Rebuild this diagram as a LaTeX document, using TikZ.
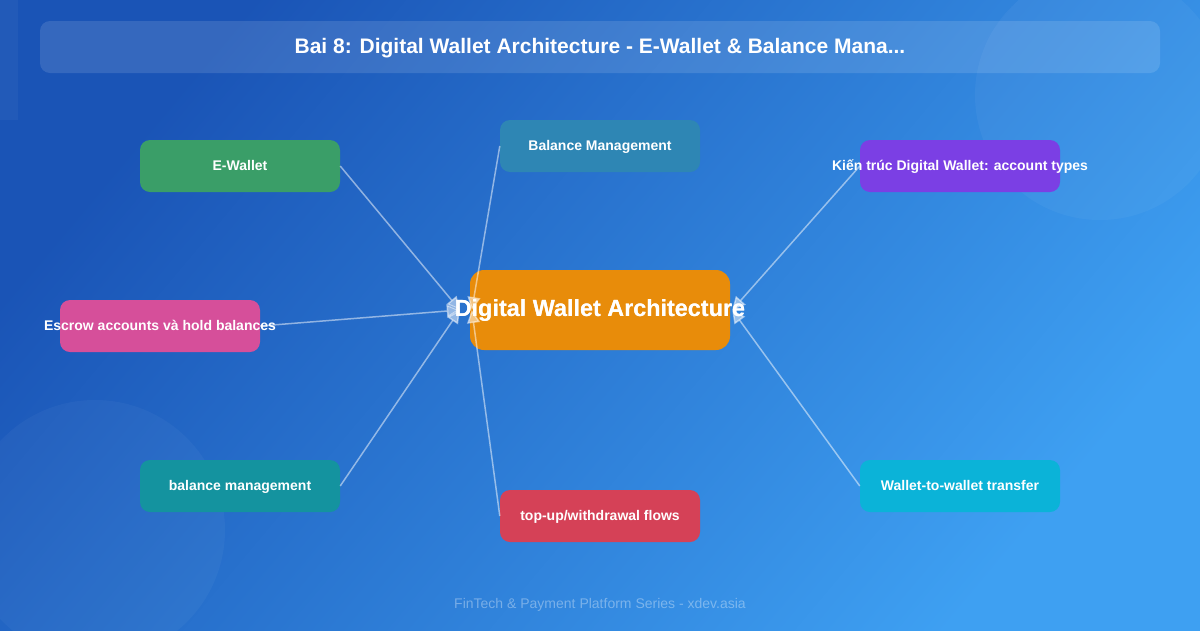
\documentclass[tikz,border=0pt]{standalone}
\usepackage{fontspec}
\setmainfont{Liberation Sans}
\usetikzlibrary{arrows.meta}
\definecolor{bgA}{RGB}{26,84,182}
\definecolor{bgB}{RGB}{62,160,242}
\definecolor{cGreen}{RGB}{58,158,104}
\definecolor{cBal}{RGB}{46,134,180}
\definecolor{cPurple}{RGB}{123,63,228}
\definecolor{cOrange}{RGB}{232,140,10}
\definecolor{cPink}{RGB}{214,79,154}
\definecolor{cTeal}{RGB}{20,147,159}
\definecolor{cRed}{RGB}{213,65,87}
\definecolor{cCyan}{RGB}{11,179,216}
\newcommand{\zw}[1]{\makebox[0pt][c]{#1}}
\tikzset{
  leaf/.style={rectangle, rounded corners=10pt, minimum width=200pt, minimum height=52pt,
    text=white, font=\bfseries\fontsize{14}{16}\selectfont, inner sep=0pt,
    text height=10pt, text depth=1pt},
  hub/.style={rectangle, rounded corners=14pt, minimum width=260pt, minimum height=80pt,
    fill=cOrange, text=white, font=\bfseries\fontsize{23.4}{26}\selectfont, inner sep=0pt},
  link/.style={draw=white, opacity=0.5, line width=1.5pt,
    -{Triangle[length=13pt,width=13pt]}},
}
\begin{document}
\begin{tikzpicture}[x=1pt,y=-1pt]
\useasboundingbox (0,0) rectangle (1200,630);
\shade[top color=bgA, bottom color=bgB, shading angle=50] (0,0) rectangle (1200,630);
% faint decorative shapes
\fill[white, opacity=0.04] (1100,95) circle (125);
\fill[white, opacity=0.035] (95,530) circle (130);
\fill[white, opacity=0.04] (0,0) rectangle (18,120);
% title bar
\node[rectangle, rounded corners=10pt, minimum width=1120pt, minimum height=52pt,
  fill=white, fill opacity=0.12, text opacity=1, text=white,
  font=\bfseries\fontsize{21}{23}\selectfont, text height=15pt, text depth=2pt] (title) at (600,47)
  {Bai 8: Digital Wallet Architecture - E-Wallet \& Balance Mana...};
% nodes
\node[hub] (c) at (600,310) {\zw{Digital Wallet Architecture}};
\node[leaf, fill=cGreen] (ew) at (240,166) {E-Wallet};
\node[leaf, fill=cBal] (bm) at (600,146) {Balance Management};
\node[leaf, fill=cPurple] (kt) at (960,166) {\zw{Kiến trúc Digital Wallet: account types}};
\node[leaf, fill=cPink] (es) at (160,326) {\zw{Escrow accounts và hold balances}};
\node[leaf, fill=cTeal] (bl) at (240,486) {balance management};
\node[leaf, fill=cRed] (tu) at (600,516) {top-up/withdrawal flows};
\node[leaf, fill=cCyan] (ww) at (960,486) {Wallet-to-wallet transfer};
% connectors
\coordinate (cl) at ([xshift=-10pt]c.west);
\coordinate (cr) at ([xshift=2pt]c.east);
\draw[link] (ew.east) -- (cl);
\draw[link] (bm.west) -- ([xshift=2pt]c.west);
\draw[link] (es.east) -- (cl);
\draw[link] (bl.east) -- (cl);
\draw[link] (tu.west) -- ([xshift=2pt]c.west);
\draw[link] (kt.west) -- (cr);
\draw[link] (ww.west) -- (cr);
% redraw hub text on top
\node[text=white, font=\bfseries\fontsize{23.4}{26}\selectfont] (ct) at (c.center) {\zw{Digital Wallet Architecture}};
% footer
\node[text=white, text opacity=0.35, font=\fontsize{14}{16}\selectfont] (foot) at (600,605)
  {FinTech \& Payment Platform Series - xdev.asia};
\end{tikzpicture}
\end{document}
